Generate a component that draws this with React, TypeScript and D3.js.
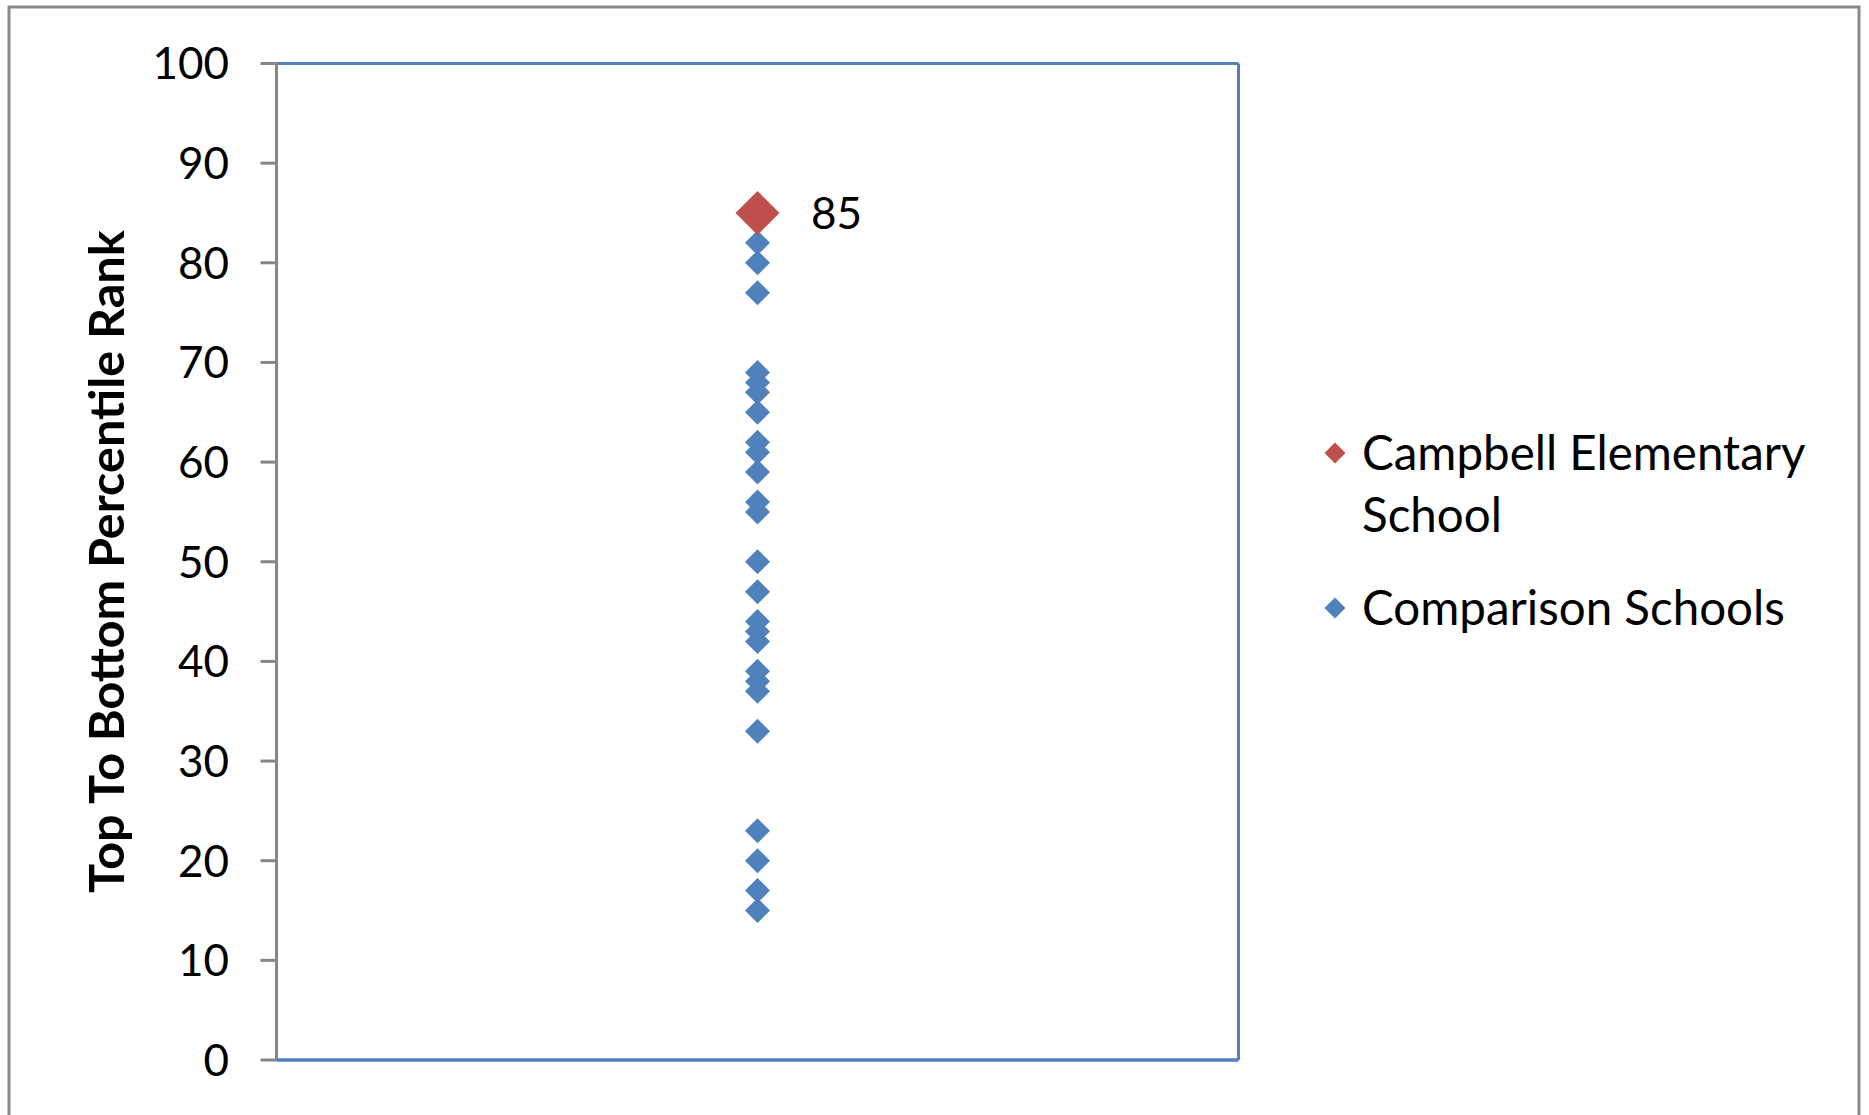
import React from "react";
import * as d3 from "d3";

const categories = ["Campbell Elementary School", "Comparison Schools"];
const campbellValues = [85];
const comparisonValues = [82, 80, 77, 69, 68, 67, 65, 62, 61, 59, 56, 55, 50, 47, 44, 43, 42, 39, 38, 37, 33, 23, 20, 17, 15];
const yTicks = [0, 10, 20, 30, 40, 50, 60, 70, 80, 90, 100];
const yTitle = "Top To Bottom Percentile Rank";

const W = 1869;
const H = 1115;
const FONT = "Lato, 'Noto Sans', sans-serif";
const BLUE = "#4F81BD";
const RED = "#C0504D";
const GRAY = "#868686";

const plot = { left: 276.5, right: 1238.5, top: 63.5, bottom: 1060 };

function diamond(cx: number, cy: number, r: number) {
  return `M${cx},${cy - r}L${cx + r},${cy}L${cx},${cy + r}L${cx - r},${cy}Z`;
}

export default function App() {
  const y = d3.scaleLinear().domain([0, 100]).range([plot.bottom, plot.top]);
  const x = d3.scalePoint<string>().domain(["x"]).range([plot.left, plot.right]).padding(0.5);
  const cx = x("x") as number;

  return (
    <div style={{ position: "fixed", left: 0, top: 0, width: W, height: H, background: "#fff" }}>
      <svg width={W} height={H} style={{ display: "block" }}>
        <rect x={0} y={0} width={W} height={H} fill="#fff" />
        {/* outer chart border */}
        <rect x={9} y={7} width={1850} height={H + 20} fill="none" stroke="#898989" strokeWidth={3} />
        {/* plot area border */}
        <line x1={plot.left} x2={plot.right} y1={plot.top} y2={plot.top} stroke={BLUE} strokeWidth={3} />
        <line x1={plot.right} x2={plot.right} y1={plot.top} y2={plot.bottom} stroke={BLUE} strokeWidth={3} />
        <line x1={plot.left} x2={plot.right} y1={plot.bottom} y2={plot.bottom} stroke={BLUE} strokeWidth={3.5} />
        {/* y axis */}
        <line x1={plot.left} x2={plot.left} y1={plot.top} y2={plot.bottom} stroke={GRAY} strokeWidth={3} />
        {yTicks.map((t) => (
          <g key={t}>
            <line x1={plot.left - 16} x2={plot.left} y1={y(t)} y2={y(t)} stroke={GRAY} strokeWidth={3} />
            <text x={229} y={y(t)} dy="0.36em" textAnchor="end" fontFamily={FONT} fontSize={44} fill="#000">
              {t}
            </text>
          </g>
        ))}
        <text
          transform={`translate(107,${(plot.top + plot.bottom) / 2}) rotate(-90)`}
          textAnchor="middle"
          dy="0.36em"
          fontFamily={FONT}
          fontSize={48.5}
          fontWeight="bold"
          fill="#000"
        >
          {yTitle}
        </text>
        {/* comparison points */}
        {comparisonValues.map((v, i) => (
          <path key={i} d={diamond(cx, y(v), 12.5)} fill={BLUE} />
        ))}
        {/* campbell point */}
        {campbellValues.map((v, i) => (
          <g key={"c" + i}>
            <path d={diamond(cx, y(v), 22)} fill={RED} />
            <text x={811} y={y(v)} dy="0.36em" fontFamily={FONT} fontSize={44} fill="#000">
              {v}
            </text>
          </g>
        ))}
        {/* legend */}
        <path d={diamond(1335, 453, 10.5)} fill={RED} />
        <text x={1362} y={453} dy="0.36em" fontFamily={FONT} fontSize={47.5} fill="#000">
          Campbell Elementary
        </text>
        <text x={1362} y={515} dy="0.36em" fontFamily={FONT} fontSize={47.5} fill="#000">
          School
        </text>
        <path d={diamond(1335, 608, 10.5)} fill={BLUE} />
        <text x={1362} y={608} dy="0.36em" fontFamily={FONT} fontSize={47.5} fill="#000">
          {categories[1]}
        </text>
      </svg>
    </div>
  );
}
